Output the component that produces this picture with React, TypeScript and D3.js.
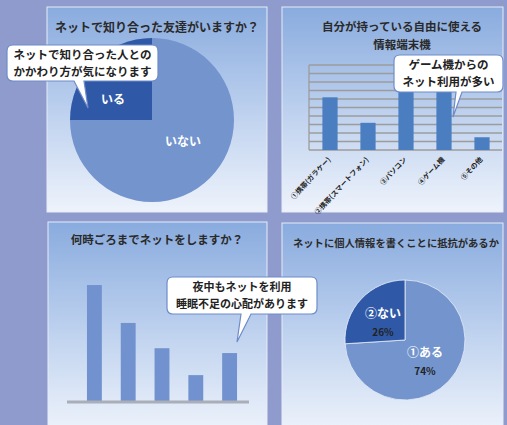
import React from "react";
import * as d3 from "d3";

// ---- Data ----
const pie1Labels = ["いる", "いない"];
const pie1Values = [25, 75];

const deviceCategories = ["①携帯(ガラケー)", "②携帯(スマートフォン)", "③パソコン", "④ゲーム機", "⑤その他"];
const deviceValues = [6.2, 3.2, 7.4, 7.6, 1.5];
const deviceTicks = [0, 1, 2, 3, 4, 5, 6, 7, 8, 9, 10];

const timeCategories = ["21時", "22時", "23時", "24時", "それ以降"];
const timeValues = [43.5, 29.4, 20, 10, 18.2];

const pie4Labels = ["①ある", "②ない"];
const pie4Values = [74, 26];
const pie4Pct = ["74%", "26%"];

const titles = {
  p1: "ネットで知り合った友達がいますか？",
  p2a: "自分が持っている自由に使える",
  p2b: "情報端末機",
  p3: "何時ごろまでネットをしますか？",
  p4: "ネットに個人情報を書くことに抵抗があるか",
};
const callout1 = ["ネットで知り合った人との", "かかわり方が気になります"];
const callout2 = ["ゲーム機からの", "ネット利用が多い"];
const callout3 = ["夜中もネットを利用", "睡眠不足の心配があります"];

const FONT = "'Noto Sans CJK JP', 'Noto Sans', sans-serif";
const LIGHT = "#7394cd";
const DARK = "#2f59a7";

function Callout({ x, y, w, h, tail, lines, fs }: any) {
  const r = 6;
  const [b1, b2, tip] = tail;
  const d = `M${x + r},${y} H${x + w - r} Q${x + w},${y} ${x + w},${y + r} V${y + h - r} Q${x + w},${y + h} ${x + w - r},${y + h}
    H${b2} L${tip[0]},${tip[1]} L${b1},${y + h} H${x + r} Q${x},${y + h} ${x},${y + h - r} V${y + r} Q${x},${y} ${x + r},${y} Z`;
  const gap = fs * 1.48;
  return (
    <g>
      <path d={d} fill="#ffffff" stroke="#6f8cc8" strokeWidth={1.2} />
      {lines.map((t: string, i: number) => (
        <text key={i} x={x + w / 2} y={y + h / 2 + (i - 0.5) * gap + fs * 0.36} textAnchor="middle"
          fontSize={fs} fontWeight={700} fill="#222" fontFamily={FONT}>{t}</text>
      ))}
    </g>
  );
}

export default function App() {
  const W = 507, H = 425;

  // Pie 1
  const pie1 = d3.pie<number>().sort(null).startAngle(-Math.PI / 2).endAngle(1.5 * Math.PI)(pie1Values);
  const arc1 = d3.arc<d3.PieArcDatum<number>>().innerRadius(0).outerRadius(82);
  const c1 = [152, 120];

  // Bar chart 2
  const x2 = d3.scaleBand().domain(deviceCategories).range([311, 501]).paddingInner(0.6).paddingOuter(0.3);
  const y2 = d3.scaleLinear().domain([0, 10]).range([150, 65]);

  // Bar chart 3
  const x3 = d3.scaleBand().domain(timeCategories).range([77.5, 246.5]).paddingInner(0.56).paddingOuter(0.28);
  const y3 = d3.scaleLinear().domain([0, 45]).range([402, 281]);

  // Pie 4
  const pie4 = d3.pie<number>().sort(null)(pie4Values);
  const arc4 = d3.arc<d3.PieArcDatum<number>>().innerRadius(0).outerRadius(60);
  const c4 = [405, 340];

  const panels = [
    [47, 7, 220, 205],
    [282, 7, 221, 205],
    [48, 222, 219, 210],
    [282, 223, 221, 210],
  ];

  return (
    <svg width={W} height={H} style={{ position: "absolute", left: 0, top: 0 }} fontFamily={FONT}>
      <defs>
        <linearGradient id="pg" x1="0" y1="0" x2="0" y2="1">
          <stop offset="0" stopColor="#89abde" />
          <stop offset="0.5" stopColor="#bcd0ee" />
          <stop offset="1" stopColor="#eef3fb" />
        </linearGradient>
      </defs>
      <rect width={W} height={H} fill="#8f9acd" />
      {panels.map((p, i) => (
        <rect key={i} x={p[0]} y={p[1]} width={p[2]} height={p[3]} fill="url(#pg)" stroke="#e6ecf8" strokeWidth={1} />
      ))}

      {/* Panel 1 */}
      <text x={157} y={32} textAnchor="middle" fontSize={12} fontWeight={700} fill="#2a2a2a">{titles.p1}</text>
      <g transform={`translate(${c1[0]},${c1[1]})`}>
        {pie1.map((d, i) => (
          <path key={i} d={arc1(d) as string} fill={i === 0 ? DARK : LIGHT} />
        ))}
        {pie1.map((d, i) => {
          const pos = i === 0 ? [-39, -16] : [31, 26];
          return (
            <text key={"t" + i} x={pos[0]} y={pos[1]} textAnchor="middle" fontSize={12} fontWeight={700} fill="#fff">{pie1Labels[i]}</text>
          );
        })}
      </g>
      <Callout x={7} y={45} w={151} h={36} tail={[74, 84, [88, 108]]} lines={callout1} fs={11.5} />

      {/* Panel 2 */}
      <text x={402} y={31} textAnchor="middle" fontSize={11.5} fontWeight={700} fill="#2a2a2a">{titles.p2a}</text>
      <text x={402} y={49} textAnchor="middle" fontSize={11.5} fontWeight={700} fill="#2a2a2a">{titles.p2b}</text>
      {deviceTicks.map((t) => (
        <line key={t} x1={309} x2={502} y1={y2(t)} y2={y2(t)} stroke="#9c9c9c" strokeWidth={1.3} />
      ))}
      <line x1={309} x2={309} y1={y2(10)} y2={y2(0)} stroke="#9c9c9c" strokeWidth={1.3} />
      {deviceValues.map((v, i) => (
        <rect key={i} x={x2(deviceCategories[i])} y={y2(v)} width={x2.bandwidth()} height={y2(0) - y2(v)} fill="#4a7ec1" />
      ))}
      {deviceCategories.map((c, i) => {
        const cx = (x2(c) as number) + x2.bandwidth() / 2 + 1;
        return (
          <text key={c} transform={`translate(${cx},${160}) rotate(-47)`} textAnchor="end" fontSize={7} fontWeight={700} fill="#222">{c}</text>
        );
      })}
      <Callout x={394} y={55} w={109} h={37} tail={[456, 462, [453, 117]]} lines={callout2} fs={11.5} />

      {/* Panel 3 */}
      <text x={157} y={244} textAnchor="middle" fontSize={11.5} fontWeight={700} fill="#2a2a2a">{titles.p3}</text>
      {timeValues.map((v, i) => (
        <rect key={i} x={x3(timeCategories[i])} y={y3(v)} width={x3.bandwidth()} height={y3(0) - y3(v)} fill="#7192cf" />
      ))}
      <line x1={67} x2={249} y1={y3(0)} y2={y3(0)} stroke="#a9aeb8" strokeWidth={3} />
      <Callout x={167} y={277} w={150} h={37} tail={[241, 251, [237, 342]]} lines={callout3} fs={11} />

      {/* Panel 4 */}
      <text x={396} y={247} textAnchor="middle" fontSize={10.3} fontWeight={700} fill="#2a2a2a">{titles.p4}</text>
      <g transform={`translate(${c4[0]},${c4[1]})`}>
        {pie4.map((d, i) => (
          <path key={i} d={arc4(d) as string} fill={i === 0 ? LIGHT : DARK} stroke="#e8eef9" strokeWidth={0.8} />
        ))}
        {pie4.map((d, i) => {
          const pos = i === 0 ? [20, 17] : [-22, -22];
          return (
            <g key={"l" + i}>
              <text x={pos[0]} y={pos[1]} textAnchor="middle" fontSize={12} fontWeight={700} fill="#fff">{pie4Labels[i]}</text>
              <text x={pos[0]} y={pos[1] + 18} textAnchor="middle" fontSize={10} fontWeight={700} fill="#222">{pie4Pct[i]}</text>
            </g>
          );
        })}
      </g>
    </svg>
  );
}
